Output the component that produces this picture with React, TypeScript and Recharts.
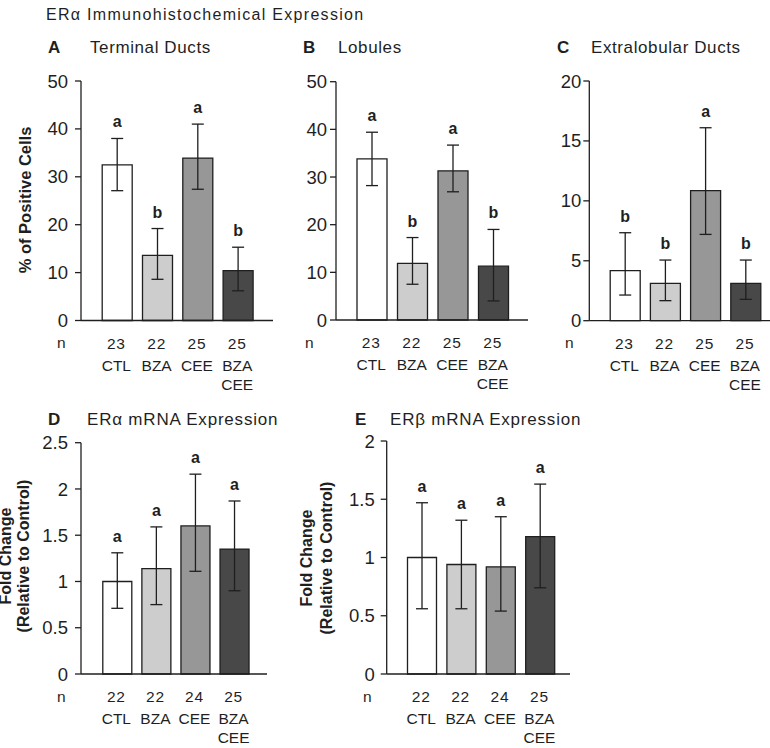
import React from 'react';
import { BarChart, Bar, XAxis, YAxis, ErrorBar, Cell, LabelList } from 'recharts';

const categories = ['CTL', 'BZA', 'CEE', 'BZA CEE'];
const barFills = ['#ffffff', '#cdcdcd', '#979797', '#484848'];

const nTissue = [23, 22, 25, 25];
const nMrna = [22, 22, 24, 25];

// A  Terminal Ducts (% of positive cells)
const ductMean = [32.5, 13.6, 33.9, 10.4];
const ductUpper = [38.0, 19.2, 41.0, 15.3];
const ductLower = [27.1, 8.6, 27.4, 6.2];
const ductLetters = ['a', 'b', 'a', 'b'];

// B  Lobules
const lobMean = [33.8, 11.9, 31.3, 11.3];
const lobUpper = [39.4, 17.3, 36.7, 19.0];
const lobLower = [28.2, 7.5, 26.9, 4.0];
const lobLetters = ['a', 'b', 'a', 'b'];

// C  Extralobular Ducts
const extraMean = [4.17, 3.12, 10.85, 3.12];
const extraUpper = [7.34, 5.06, 16.1, 5.06];
const extraLower = [2.14, 1.67, 7.2, 1.78];
const extraLetters = ['b', 'b', 'a', 'b'];

// D  ERα mRNA (fold change)
const eraMean = [1.0, 1.14, 1.6, 1.35];
const eraUpper = [1.31, 1.59, 2.16, 1.87];
const eraLower = [0.71, 0.75, 1.11, 0.9];
const eraLetters = ['a', 'a', 'a', 'a'];

// E  ERβ mRNA (fold change)
const erbMean = [1.0, 0.94, 0.92, 1.18];
const erbUpper = [1.47, 1.32, 1.35, 1.63];
const erbLower = [0.56, 0.56, 0.54, 0.74];
const erbLetters = ['a', 'a', 'a', 'a'];

const ticksPct = [0, 10, 20, 30, 40, 50];
const ticksExtra = [0, 5, 10, 15, 20];
const ticksEra = [0, 0.5, 1, 1.5, 2, 2.5];
const ticksErb = [0, 0.5, 1, 1.5, 2];

const ink = '#1f1f1f';
const ff = '"Liberation Sans", Arial, Helvetica, sans-serif';

const CatTick = (props: any) => {
  const { x, y, payload, index, nVals } = props;
  const lines = String(payload.value).split(' ');
  return (
    <g>
      <text x={x - 1} y={y + 28} textAnchor="middle" fontSize={15.5} letterSpacing={0.8} fill={ink} fontFamily={ff}>
        {nVals[index]}
      </text>
      {lines.map((t: string, k: number) => (
        <text key={k} x={x - 1} y={y + 50 + k * 19} textAnchor="middle" fontSize={15.5} fill={ink} fontFamily={ff}>
          {t}
        </text>
      ))}
    </g>
  );
};

function Panel(p: any) {
  const { left, top, plotLeft, plotTop, plotRight, plotBottom, mean, upper, lower, letters, nVals, ticks, padL, padR, tickMargin, barSize, xAxisH } = p;
  const data = categories.map((cat, i) => ({
    cat,
    idx: i,
    value: mean[i],
    err: [mean[i] - lower[i], upper[i] - mean[i]],
  }));
  const width = plotRight - left;
  const height = plotBottom - top + xAxisH;

  const renderLetter = (lp: any) => {
    const vb = lp.viewBox || lp;
    const i = lp.index ?? lp.value;
    const x = vb.x;
    const y = vb.y;
    const w = vb.width;
    const h = vb.height;
    const scale = h / mean[i];
    const base = y + h;
    const topPx = base - upper[i] * scale;
    return (
      <text x={x + w / 2} y={topPx - 11} textAnchor="middle" fontSize={16} fontWeight="bold" fill={ink} fontFamily={ff}>
        {letters[i]}
      </text>
    );
  };

  return (
    <div style={{ position: 'absolute', left, top }}>
      <BarChart
        width={width}
        height={height}
        data={data}
        margin={{ top: plotTop - top, right: 0, bottom: 0, left: 0 }}
      >
        <XAxis
          dataKey="cat"
          height={xAxisH}
          interval={0}
          tickLine={false}
          tickSize={0}
          tickMargin={0}
          axisLine={{ stroke: ink, strokeWidth: 1.3 }}
          padding={{ left: padL, right: padR }}
          tick={(tp: any) => <CatTick {...tp} nVals={nVals} />}
        />
        <YAxis
          width={plotLeft - left}
          domain={[ticks[0], ticks[ticks.length - 1]]}
          ticks={ticks}
          interval={0}
          tickSize={6}
          tickMargin={tickMargin}
          axisLine={{ stroke: ink, strokeWidth: 1.3 }}
          tickLine={{ stroke: ink, strokeWidth: 1.3 }}
          tick={{ fill: ink, fontSize: 18.5, fontFamily: ff }}
        />
        <Bar dataKey="value" barSize={barSize} stroke={ink} strokeWidth={1.3} isAnimationActive={false}>
          {data.map((d, i) => (
            <Cell key={i} fill={barFills[i]} />
          ))}
          <ErrorBar dataKey="err" width={6} stroke={ink} strokeWidth={1.3} direction="y" isAnimationActive={false} />
          <LabelList dataKey="idx" content={renderLetter} />
        </Bar>
      </BarChart>
    </div>
  );
}

export default function App() {
  return (
    <div style={{ position: 'absolute', left: 0, top: 0, width: 770, height: 748, overflow: 'hidden', background: '#fff', fontFamily: ff }}>
      <Panel left={0} top={40} plotLeft={81} plotTop={81} plotRight={273} plotBottom={320.5} xAxisH={76}
        mean={ductMean} upper={ductUpper} lower={ductLower} letters={ductLetters} nVals={nTissue}
        ticks={ticksPct} padL={16.2} padR={14.6} tickMargin={7} barSize={30} />
      <Panel left={273} top={40} plotLeft={336} plotTop={81.7} plotRight={528} plotBottom={320} xAxisH={76}
        mean={lobMean} upper={lobUpper} lower={lobLower} letters={lobLetters} nVals={nTissue}
        ticks={ticksPct} padL={16} padR={14} tickMargin={3} barSize={30} />
      <Panel left={528} top={40} plotLeft={589.3} plotTop={81} plotRight={770} plotBottom={320.7} xAxisH={76}
        mean={extraMean} upper={extraUpper} lower={extraLower} letters={extraLetters} nVals={nTissue}
        ticks={ticksExtra} padL={15.9} padR={4} tickMargin={2} barSize={30} />
      <Panel left={0} top={400} plotLeft={81} plotTop={442.7} plotRight={267} plotBottom={674} xAxisH={74}
        mean={eraMean} upper={eraUpper} lower={eraLower} letters={eraLetters} nVals={nMrna}
        ticks={ticksEra} padL={16.8} padR={12.9} tickMargin={7} barSize={29} />
      <Panel left={267} top={400} plotLeft={386.7} plotTop={441} plotRight={570} plotBottom={674} xAxisH={74}
        mean={erbMean} upper={erbUpper} lower={erbLower} letters={erbLetters} nVals={nMrna}
        ticks={ticksErb} padL={15.8} padR={9.9} tickMargin={6} barSize={29} />

      <svg width={770} height={748} style={{ position: 'absolute', left: 0, top: 0, pointerEvents: 'none' }} fontFamily={ff} fill={ink}>
        <text x={46} y={20} fontSize={16} letterSpacing={1.3}>ERα Immunohistochemical Expression</text>

        <text x={48} y={53} fontSize={17} fontWeight="bold">A</text>
        <text x={90} y={53} fontSize={17} letterSpacing={0.6}>Terminal Ducts</text>
        <text x={303} y={53} fontSize={17} fontWeight="bold">B</text>
        <text x={338} y={53} fontSize={17} letterSpacing={0.6}>Lobules</text>
        <text x={557} y={53} fontSize={17} fontWeight="bold">C</text>
        <text x={591} y={53} fontSize={17} letterSpacing={0.6}>Extralobular Ducts</text>
        <text x={48} y={425} fontSize={17} fontWeight="bold">D</text>
        <text x={87} y={425} fontSize={17} letterSpacing={0.8}>ERα mRNA Expression</text>
        <text x={355} y={425} fontSize={17} fontWeight="bold">E</text>
        <text x={390} y={425} fontSize={17} letterSpacing={0.8}>ERβ mRNA Expression</text>

        <text x={57} y={348} fontSize={15.5}>n</text>
        <text x={305} y={348} fontSize={15.5}>n</text>
        <text x={565} y={348} fontSize={15.5}>n</text>
        <text x={57} y={702} fontSize={15.5}>n</text>
        <text x={363} y={702} fontSize={15.5}>n</text>

        <text x={31} y={200} fontSize={16.5} fontWeight="bold" textAnchor="middle" transform="rotate(-90 31 200)">% of Positive Cells</text>
        <text x={11} y={556} fontSize={16} fontWeight="bold" textAnchor="middle" transform="rotate(-90 11 556)">Fold Change</text>
        <text x={28.5} y={556} fontSize={16} fontWeight="bold" textAnchor="middle" transform="rotate(-90 28.5 556)">(Relative to Control)</text>
        <text x={311.5} y={558} fontSize={16} fontWeight="bold" textAnchor="middle" transform="rotate(-90 311.5 558)">Fold Change</text>
        <text x={331.5} y={558} fontSize={16} fontWeight="bold" textAnchor="middle" transform="rotate(-90 331.5 558)">(Relative to Control)</text>
      </svg>
    </div>
  );
}
